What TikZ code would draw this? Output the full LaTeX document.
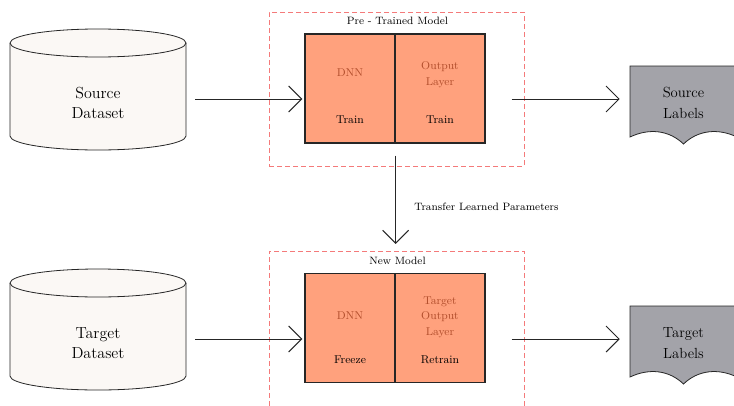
\documentclass[tikz,border=0pt]{standalone}
\usetikzlibrary{arrows.meta}
\definecolor{cylfill}{RGB}{251,248,245}
\definecolor{salmonfill}{RGB}{255,161,125}
\definecolor{dnntext}{RGB}{178,78,44}
\definecolor{labelgray}{RGB}{163,163,169}
\definecolor{dashred}{RGB}{244,122,122}
\tikzset{
  arr/.style={draw=black!85, line width=0.75pt, -{Straight Barb[length=9.75pt,width=19.5pt,line width=0.75pt]}},
  bigtext/.style={align=center, font=\fontsize{12}{15}\selectfont, inner sep=0pt},
  innertext/.style={align=center, font=\fontsize{8.5}{11.5}\selectfont, inner sep=0pt},
  smalltext/.style={font=\fontsize{8}{10}\selectfont, inner sep=0pt},
  halfbox/.style={draw=black!85, line width=0.9pt, fill=salmonfill, minimum width=67.5pt, minimum height=81.75pt, inner sep=0pt},
  frame/.style={draw=dashred, line width=0.6pt, dash pattern=on 3.5pt off 2.5pt, minimum width=191.25pt, inner sep=0pt},
  cylbody/.style={draw=black!85, line width=0.6pt, fill=cylfill},
  labshape/.style={draw=black!85, line width=0.6pt, fill=labelgray},
  cylnode/.style={bigtext, minimum width=132pt},
  labnode/.style={align=center, font=\fontsize{11}{15.5}\selectfont, inner sep=0pt, minimum width=80.25pt}
}
\begin{document}
\begin{tikzpicture}[x=0.75pt,y=0.75pt]
\useasboundingbox (0,0) rectangle (734,405);

% ---- cylinders ----
\draw[cylbody] (10,362) -- (10,269) arc[start angle=180,end angle=360,x radius=66pt,y radius=10.5pt] -- (186,362) arc[start angle=0,end angle=180,x radius=66pt,y radius=10.5pt] -- cycle;
\draw[cylbody, fill=none] (10,362) arc[start angle=180,end angle=360,x radius=66pt,y radius=10.5pt];
\node[cylnode] (src) at (98,302) {Source\\Dataset};

\draw[cylbody] (10,122) -- (10,29) arc[start angle=180,end angle=360,x radius=66pt,y radius=10.5pt] -- (186,122) arc[start angle=0,end angle=180,x radius=66pt,y radius=10.5pt] -- cycle;
\draw[cylbody, fill=none] (10,122) arc[start angle=180,end angle=360,x radius=66pt,y radius=10.5pt];
\node[cylnode] (tgt) at (98,62) {Target\\Dataset};

% ---- dashed frames ----
\node[frame, minimum height=115.5pt] (pre) at (396.5,316) {};
\node[smalltext] (pretitle) at (397.5,384) {Pre - Trained Model};
\node[frame, minimum height=123pt] (new) at (396.5,72) {};
\node[smalltext] (newtitle) at (397.5,144) {New Model};

% ---- model boxes ----
\node[halfbox] (dnn1) at (350,316.5) {};
\node[halfbox] (out1) at (440,316.5) {};
\node[innertext, text=dnntext] (dnn1t) at (350,332) {DNN};
\node[innertext] (dnn1b) at (350,285) {Train};
\node[innertext, text=dnntext] (out1t) at (440,330.5) {Output\\Layer};
\node[innertext] (out1b) at (440,285) {Train};

\node[halfbox] (dnn2) at (350,77) {};
\node[halfbox] (out2) at (440,77) {};
\node[innertext, text=dnntext] (dnn2t) at (350,89) {DNN};
\node[innertext] (dnn2b) at (350,45) {Freeze};
\node[innertext, text=dnntext] (out2t) at (440,88) {Target\\Output\\Layer};
\node[innertext] (out2b) at (440,45) {Retrain};

% ---- label shapes ----
\draw[labshape] (630,339) -- (737,339) -- (737,268) .. controls (718,277) and (698,275) .. (683.5,261) .. controls (669,275) and (649,277) .. (630,268) -- cycle;
\node[labnode] (srclab) at (683.5,302) {Source\\Labels};
\draw[labshape] (630,99) -- (737,99) -- (737,28) .. controls (718,37) and (698,35) .. (683.5,21) .. controls (669,35) and (649,37) .. (630,28) -- cycle;
\node[labnode] (tgtlab) at (683.5,62) {Target\\Labels};

% ---- connectors ----
\draw[arr] ([xshift=6.75pt,yshift=3pt]src.east) -- ([xshift=-1.5pt,yshift=-7.875pt]dnn1.west);
\draw[arr] ([xshift=19.5pt,yshift=-7.875pt]out1.east) -- ([xshift=-7.5pt,yshift=3pt]srclab.west);
\draw[arr] ([xshift=6.75pt,yshift=3pt]tgt.east) -- ([xshift=-1.5pt,yshift=-8.25pt]dnn2.west);
\draw[arr] ([xshift=19.5pt,yshift=-8.25pt]out2.east) -- ([xshift=-7.5pt,yshift=3pt]tgtlab.west);
\draw[arr] ([yshift=-9pt]dnn1.south east) -- ([yshift=21.75pt]dnn2.north east);
\node[smalltext, anchor=west] (xfer) at (414,198) {Transfer Learned Parameters};
\end{tikzpicture}
\end{document}
